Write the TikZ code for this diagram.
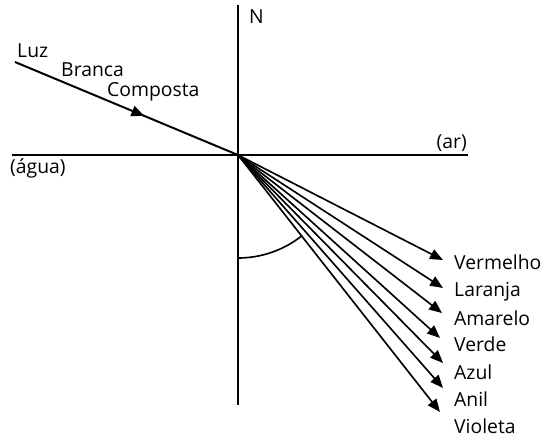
\documentclass[tikz,border=0pt]{standalone}
\usepackage{fontspec}
\setmainfont{Open Sans}
\usepackage{tikz}
\usetikzlibrary{arrows.meta, calc, decorations.markings}
\tikzset{
    axis/.style={line width=1.7pt, black},
    ray/.style={-{Triangle[length=11pt, width=9pt]}, line width=1.4pt},
    incident/.style={line width=1.7pt, postaction={decorate},
        decoration={markings, mark=at position 0.58 with {\arrow{Triangle[length=11pt, width=9pt]}}}},
    lbl/.style={font=\fontsize{16.5}{19}\selectfont, inner sep=0pt}
}

\begin{document}
\begin{tikzpicture}[x=0.03cm, y=-0.03cm]
    \useasboundingbox (0,0) rectangle (555,439);
    \coordinate (O) at (238,155);
    % eixos
    \coordinate (W) at (12,155); \coordinate (E) at (468,155);
    \coordinate (Ntop) at (238,5); \coordinate (S) at (238,405);
    \draw[axis] (W) -- (E);
    \draw[axis] (Ntop) -- (S);
    \node[lbl, anchor=west] (N) at (249,17) {N};
    \node[lbl, anchor=east] (ar) at (467,143) {(ar)};
    \node[lbl, anchor=west] (agua) at (10,168) {(água)};
    % raio incidente
    \coordinate (inc) at (15,62);
    \draw[incident] (inc) -- (O);
    \node[lbl, anchor=west] (luz) at (17,51) {Luz};
    \node[lbl, anchor=west] (branca) at (61,70) {Branca};
    \node[lbl, anchor=west] (composta) at (107,92) {Composta};
    % raios refratados
    \foreach \cor/\tx/\ty/\ly in {Vermelho/443/260/262, Laranja/443/288/292,
        Amarelo/442/313/318, Verde/440/338/344, Azul/443/363/372,
        Anil/443/388/399, Violeta/440/412/426}{
        \coordinate (t\cor) at (\tx,\ty);
        \draw[ray] (O) -- (t\cor);
        \node[lbl, anchor=west] (l\cor) at (454,\ly) {\cor};
    }
    % angulo de refracao
    \draw[line width=1.4pt] ($(O)+(90:103)$) arc[start angle=90, end angle=52, radius=103];
\end{tikzpicture}
\end{document}
